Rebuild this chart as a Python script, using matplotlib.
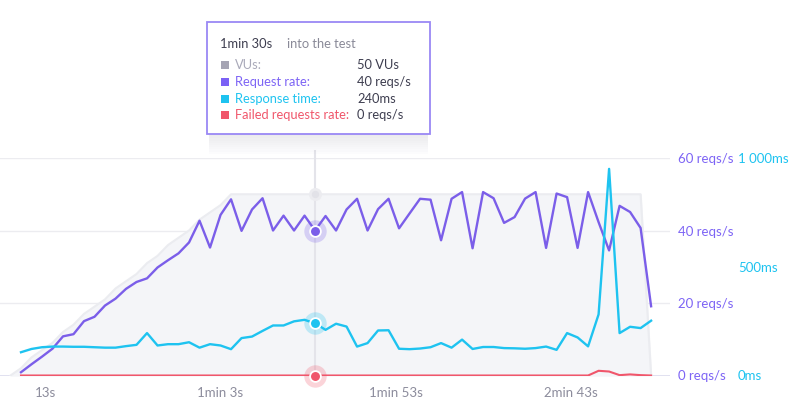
import numpy as np
import matplotlib.pyplot as plt
from matplotlib.patches import Rectangle

plt.rcParams['font.family'] = ['Lato', 'DejaVu Sans']

# samples every 3 s into the test
t = np.arange(6, 189, 3)
vu_t = np.concatenate([[3], t])

vus = [0, 2, 5, 7, 9, 12, 14, 17, 19, 21, 24, 26, 28, 31, 33, 36, 38, 40, 43, 45,
       47, 50] + [50] * 39 + [0]

req_rate = [0.9, 3.1, 5.2, 7.4, 10.8, 11.4, 15.0, 16.2, 19.3, 21.2, 23.9, 25.8,
            26.8, 29.8, 31.8, 33.7, 36.7, 42.7, 35.3, 44.3, 48.6, 39.9, 45.8, 48.9,
            40.0, 44.1, 40.0, 44.1, 40.0, 44.0, 40.0, 45.8, 48.75, 40.0, 45.9, 48.75,
            40.6, 44.7, 48.75, 48.5, 37.3, 48.75, 50.6, 35.1, 50.6, 48.9, 42.1, 43.7,
            48.8, 50.6, 35.2, 50.2, 49.2, 35.2, 50.6, 42.3, 34.5, 46.8, 45.1, 40.7, 19.1]

resp_time = [107, 122, 130, 133, 133, 132, 132, 130, 128, 128, 135, 141,
             195, 138, 144, 144, 153, 128, 144, 138, 121, 172, 179, 205,
             230, 230, 249, 256, 240, 210, 238, 225, 133, 149, 207, 208,
             123, 121, 124, 130, 149, 128, 165, 122, 131, 131, 126, 125,
             123, 126, 133, 118, 195, 175, 134, 281, 950, 195, 224, 218, 252]

failed = [0] * 55 + [1.3, 1.1, 0.1, 0.3, 0.1, 0.0]

x_ticks = [13, 63, 113, 163]
x_labels = ['13s', '1min 3s', '1min 53s', '2min 43s']
req_ticks = [0, 20, 40, 60]
req_labels = ['0 reqs/s', '20 reqs/s', '40 reqs/s', '60 reqs/s']
ms_ticks = [0, 500, 1000]
ms_labels = ['0ms', '500ms', '1 000ms']

hover_t = 90

purple = '#7b5ee9'
purple_txt = '#7d64f5'
cyan = '#1ec3f0'
red = '#f0566b'
gray = '#a5a4b3'
dark = '#3d3d4f'

fig = plt.figure(figsize=(8, 3.98), dpi=100)
ax = fig.add_axes([0, 22.5 / 398, 670 / 800, 217.5 / 398])
ax2 = ax.twinx()
ax.set_xlim(0, 191.4)
ax.set_ylim(0, 60)
ax2.set_ylim(0, 1000)
for s in list(ax.spines.values()) + list(ax2.spines.values()):
    s.set_visible(False)

for g in [20, 40, 60]:
    ax.axhline(g, color='#ececf0', lw=1, zorder=0)
ax.axhline(0, color='#dcdcee', lw=1.2, zorder=0)

# VUs area
ax.fill_between(vu_t, vus, color='#f4f5f8', zorder=1)
ax.plot(vu_t, vus, color='#ebecf0', lw=1.5, zorder=1)

ax.axvline(hover_t, ymin=0, ymax=1.03, color='#e4e4ea', lw=1.5, zorder=2, clip_on=False)

ax.plot(t, failed, color=red, lw=1.5, zorder=3)
ax.plot(t, req_rate, color=purple, lw=1.7, zorder=4)
ax2.plot(t, resp_time, color=cyan, lw=1.7, zorder=5)

ax.set_xticks(x_ticks)
ax.set_xticklabels(x_labels)
ax.tick_params(axis='x', length=0, pad=8, labelcolor='#8c8c9c', labelsize=9.5)
ax.yaxis.tick_right()
ax.set_yticks(req_ticks)
ax.set_yticklabels(req_labels)
ax.tick_params(axis='y', length=0, pad=6, labelcolor=purple_txt, labelsize=9.5)

ax2.set_yticks(ms_ticks)
ax2.set_yticklabels(ms_labels)
ax2.tick_params(axis='y', length=0, pad=49, labelcolor=cyan, labelsize=9.5)

# hover markers
i = list(t).index(hover_t)
ax.scatter([hover_t], [50], s=70, color='#ececf0', zorder=6)
ax.scatter([hover_t], [50], s=18, color='#e2e2e8', zorder=6)
ax.scatter([hover_t], [req_rate[i]], s=260, color=purple, alpha=0.25, linewidths=0, zorder=6)
ax.scatter([hover_t], [req_rate[i]], s=60, color=purple, edgecolors='white', linewidths=1.3, zorder=7)
ax.scatter([hover_t], [failed[i]], s=260, color=red, alpha=0.25, linewidths=0, zorder=6, clip_on=False)
ax.scatter([hover_t], [failed[i]], s=60, color=red, edgecolors='white', linewidths=1.3, zorder=7, clip_on=False)
ax2.scatter([hover_t], [resp_time[i]], s=260, color=cyan, alpha=0.25, linewidths=0, zorder=6)
ax2.scatter([hover_t], [resp_time[i]], s=60, color=cyan, edgecolors='white', linewidths=1.3, zorder=7)

# tooltip
W, H = 800, 398
bx, by, bw, bh = 207, 22, 223, 112
for k in range(10):
    fig.add_artist(Rectangle(((bx + 2) / W, (H - by - bh - k * 2.2) / H),
                             (bw - 4) / W, (bh - 10) / H,
                             transform=fig.transFigure, color='#50506a', alpha=0.012,
                             lw=0, zorder=8))
fig.add_artist(Rectangle((bx / W, (H - by - bh) / H), bw / W, bh / H,
                         transform=fig.transFigure, facecolor='white',
                         edgecolor='#9a88f5', lw=1.3, zorder=9))


def fy(y):
    return (H - y) / H


fig.text(220 / W, fy(44), '1min 30s', color=dark, fontsize=9.3, va='center', zorder=10)
fig.text(287 / W, fy(44), 'into the test', color='#8a8a98', fontsize=9.3, va='center', zorder=10)

rows = [('VUs:', '50 VUs', gray, '#a9a9b9'),
        ('Request rate:', '40 reqs/s', '#7b61f5', purple_txt),
        ('Response time:', '240ms', cyan, cyan),
        ('Failed requests rate:', '0 reqs/s', red, red)]
for j, (lab, val, sq, col) in enumerate(rows):
    yy = 65 + j * 16.8
    fig.add_artist(Rectangle((221 / W, fy(yy + 4)), 8 / W, 8 / H,
                             transform=fig.transFigure, color=sq, lw=0, zorder=10))
    fig.text(235 / W, fy(yy), lab, color=col, fontsize=9.3, va='center', zorder=10)
    fig.text(357 / W, fy(yy), val, color=dark, fontsize=9.3, va='center', zorder=10)

fig.savefig('out.png', dpi=100)
